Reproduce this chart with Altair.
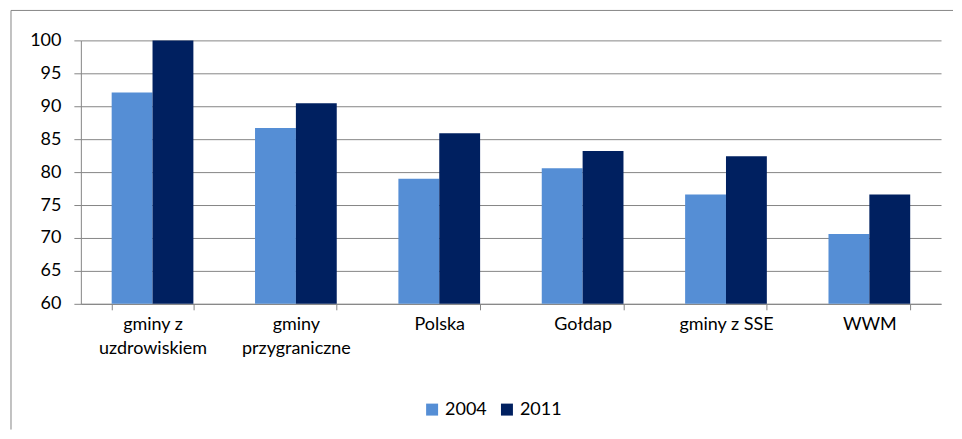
import altair as alt
import pandas as pd

categories = ["gminy z\nuzdrowiskiem", "gminy\nprzygraniczne", "Polska", "Gołdap", "gminy z SSE", "WWM"]
years = ["2004", "2011"]
values_2004 = [92.1, 86.7, 79.0, 80.6, 76.6, 70.6]
values_2011 = [100.0, 90.45, 85.9, 83.2, 82.4, 76.6]
colors = ["#558ED5", "#002060"]
y_ticks = [60, 65, 70, 75, 80, 85, 90, 95, 100]

rows = []
for c, a, b in zip(categories, values_2004, values_2011):
    rows.append({"category": c, "year": "2004", "value": a})
    rows.append({"category": c, "year": "2011", "value": b})
df = pd.DataFrame(rows)

W, H = 862, 264
FONT = "Lato"
FS = 18
GRAY = "#868686"

bars = alt.Chart(df).mark_bar().encode(
    x=alt.X("category:N", sort=categories, title=None,
            scale=alt.Scale(paddingInner=0.43, paddingOuter=0.215),
            axis=alt.Axis(labelAngle=0, labelExpr="split(datum.label, '\\n')",
                          tickBand="extent", tickSize=6, labelPadding=6,
                          labelLineHeight=24, domainColor=GRAY, tickColor=GRAY,
                          grid=False, labelFontSize=FS, labelColor="#000000",
                          labelFont=FONT, labelFontWeight="normal")),
    xOffset=alt.XOffset("year:N", sort=years,
                        scale=alt.Scale(paddingInner=0, paddingOuter=0)),
    y=alt.Y("value:Q", title=None,
            scale=alt.Scale(domain=[60, 100], nice=False, zero=False),
            axis=alt.Axis(values=y_ticks, tickSize=7, labelPadding=13,
                          domainColor=GRAY, tickColor=GRAY, gridColor=GRAY,
                          labelFontSize=FS, labelColor="#000000", labelFont=FONT,
                          labelFontWeight="normal")),
    y2=alt.datum(60),
    color=alt.Color("year:N", sort=years,
                    scale=alt.Scale(domain=years, range=colors),
                    legend=alt.Legend(title=None, orient="none", legendX=343, legendY=361,
                                      direction="horizontal", symbolType="square",
                                      symbolSize=144, symbolStrokeWidth=0,
                                      labelFontSize=FS, labelFont=FONT,
                                      labelFontWeight="normal",
                                      labelColor="#000000", columnPadding=11,
                                      labelOffset=4)),
)

frame_data = alt.Data(values=[{"k": 1}])
top_line = alt.Chart(frame_data).mark_rule(color=GRAY, strokeWidth=1).encode(
    x=alt.value(-70), x2=alt.value(W + 12), y=alt.value(-30))
left_line = alt.Chart(frame_data).mark_rule(color=GRAY, strokeWidth=1).encode(
    x=alt.value(-70), y=alt.value(-30), y2=alt.value(H + 126))

chart = alt.layer(bars, top_line, left_line).properties(
    width=W, height=H,
    padding={"left": 2, "top": 1, "right": 0, "bottom": 0},
    background="white",
).configure_view(stroke=None)

chart.save("out.html", embed_options={"renderer": "svg", "actions": False})
